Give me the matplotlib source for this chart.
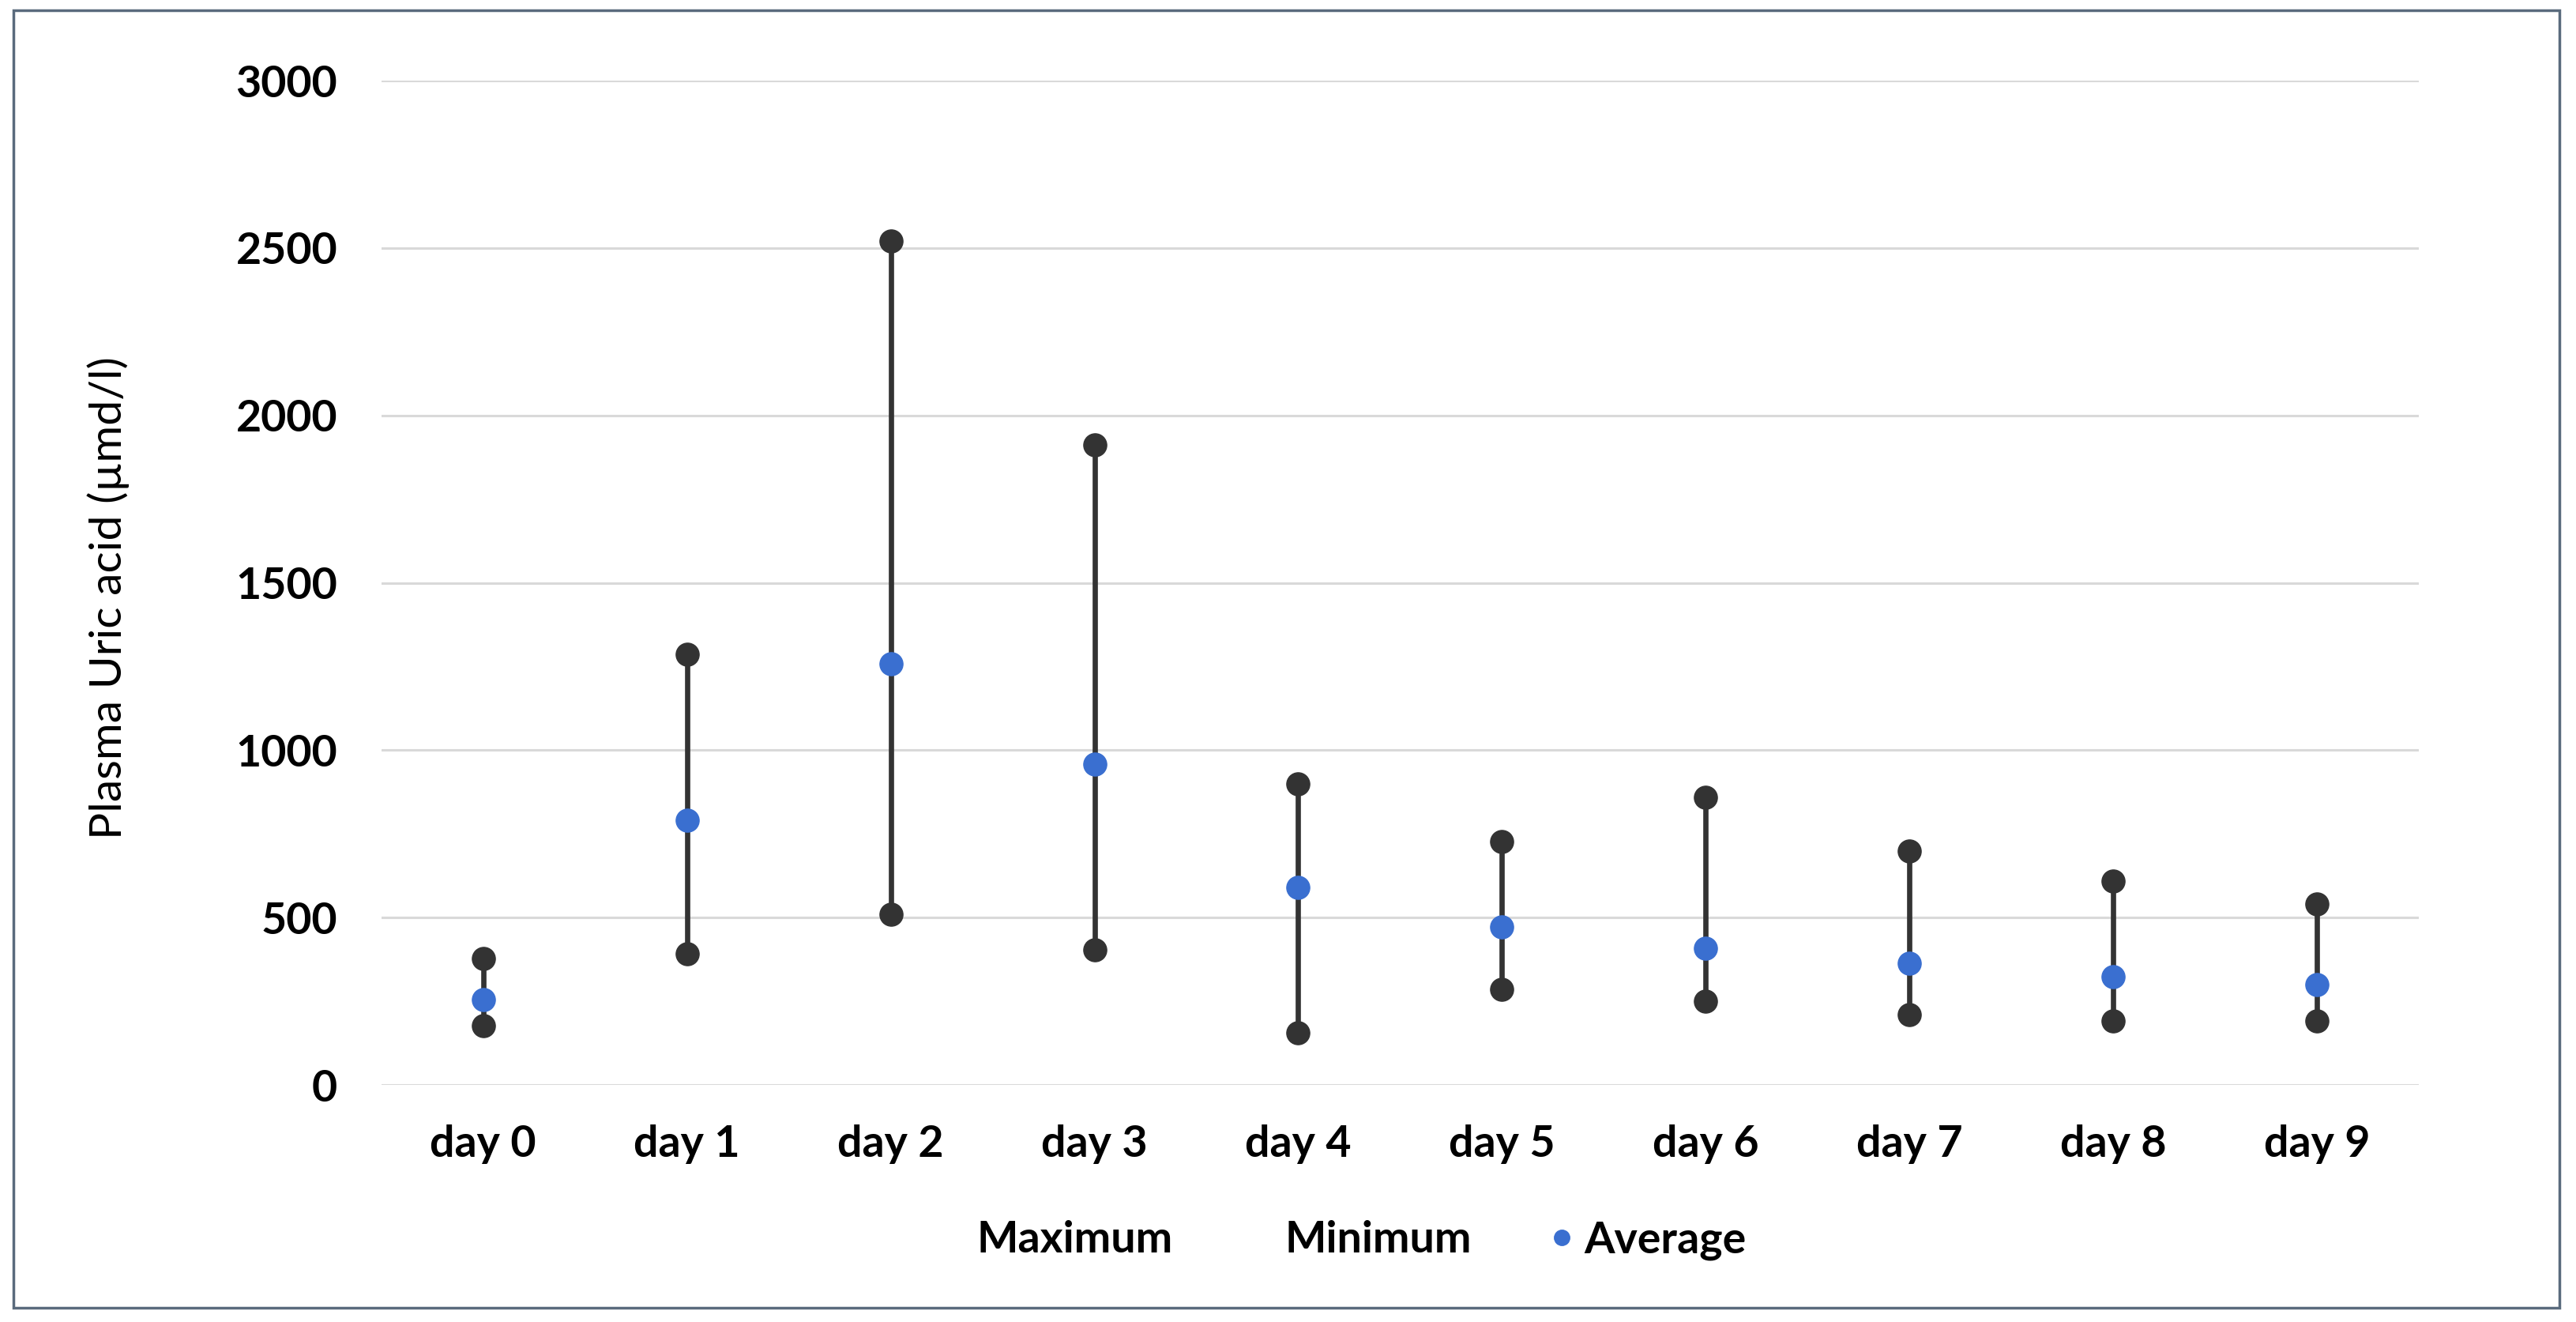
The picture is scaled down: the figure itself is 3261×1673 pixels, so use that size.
import matplotlib
matplotlib.use('Agg')
import matplotlib.pyplot as plt
from matplotlib.lines import Line2D
from matplotlib.patches import Rectangle

# data
days = ['day 0', 'day 1', 'day 2', 'day 3', 'day 4', 'day 5', 'day 6', 'day 7', 'day 8', 'day 9']
maximum = [378, 1287, 2521, 1912, 899, 727, 860, 698, 609, 541]
minimum = [177, 393, 511, 403, 157, 285, 251, 211, 192, 192]
average = [255, 791, 1258, 958, 590, 472, 408, 364, 324, 300]
yticks = [0, 500, 1000, 1500, 2000, 2500, 3000]

dark = '#333333'
blue = '#3a6fd0'

plt.rcParams['font.family'] = ['Lato', 'DejaVu Sans']

fig = plt.figure(figsize=(32.62, 16.73), dpi=100)
ax = fig.add_axes([0.148, 0.1793, 0.7907, 0.7597])

x = list(range(len(days)))

# range lines + markers
ax.vlines(x, minimum, maximum, color=dark, linewidth=4.8, zorder=3)
ax.plot(x, maximum, 'o', color=dark, markersize=21, zorder=4)
ax.plot(x, minimum, 'o', color=dark, markersize=21, zorder=4)
ax.plot(x, average, 'o', color=blue, markersize=21, zorder=5)

ax.set_xlim(-0.5, len(days) - 0.5)
ax.set_ylim(0, 3000)
ax.set_yticks(yticks)
ax.set_xticks(x)
ax.set_xticklabels(days)
ax.grid(True, axis='y', color='#d9d9d9', linewidth=2.2)
ax.set_axisbelow(True)
for s in ax.spines.values():
    s.set_visible(False)
ax.tick_params(axis='both', length=0, labelsize=40)
ax.tick_params(axis='y', pad=40)
ax.tick_params(axis='x', pad=36)
for lbl in ax.get_xticklabels() + ax.get_yticklabels():
    lbl.set_fontweight('bold')

fig.text(0.042, 0.548, 'Plasma Uric acid (µmd/l)', rotation=90,
         ha='center', va='center', fontsize=41)

# legend: max/min have no visible handle
handles = [
    Line2D([], [], linestyle='none'),
    Line2D([], [], linestyle='none'),
    Line2D([], [], linestyle='none', marker='o', color=blue, markersize=14),
]
fig.legend(handles, ['Maximum', 'Minimum', 'Average'], loc='center',
           bbox_to_anchor=(0.522, 0.062), ncol=3, frameon=False,
           prop={'size': 40, 'weight': 'bold'}, handlelength=0.5,
           handletextpad=0.25, columnspacing=1.8)

# outer chart border
fig.patches.append(Rectangle((17 / 3262, 1 - 1655 / 1673), (3240 - 17) / 3262,
                             (1655 - 13) / 1673, transform=fig.transFigure,
                             fill=False, edgecolor='#5a6b7d', linewidth=2.5))

fig.savefig('out.png', dpi=100)
